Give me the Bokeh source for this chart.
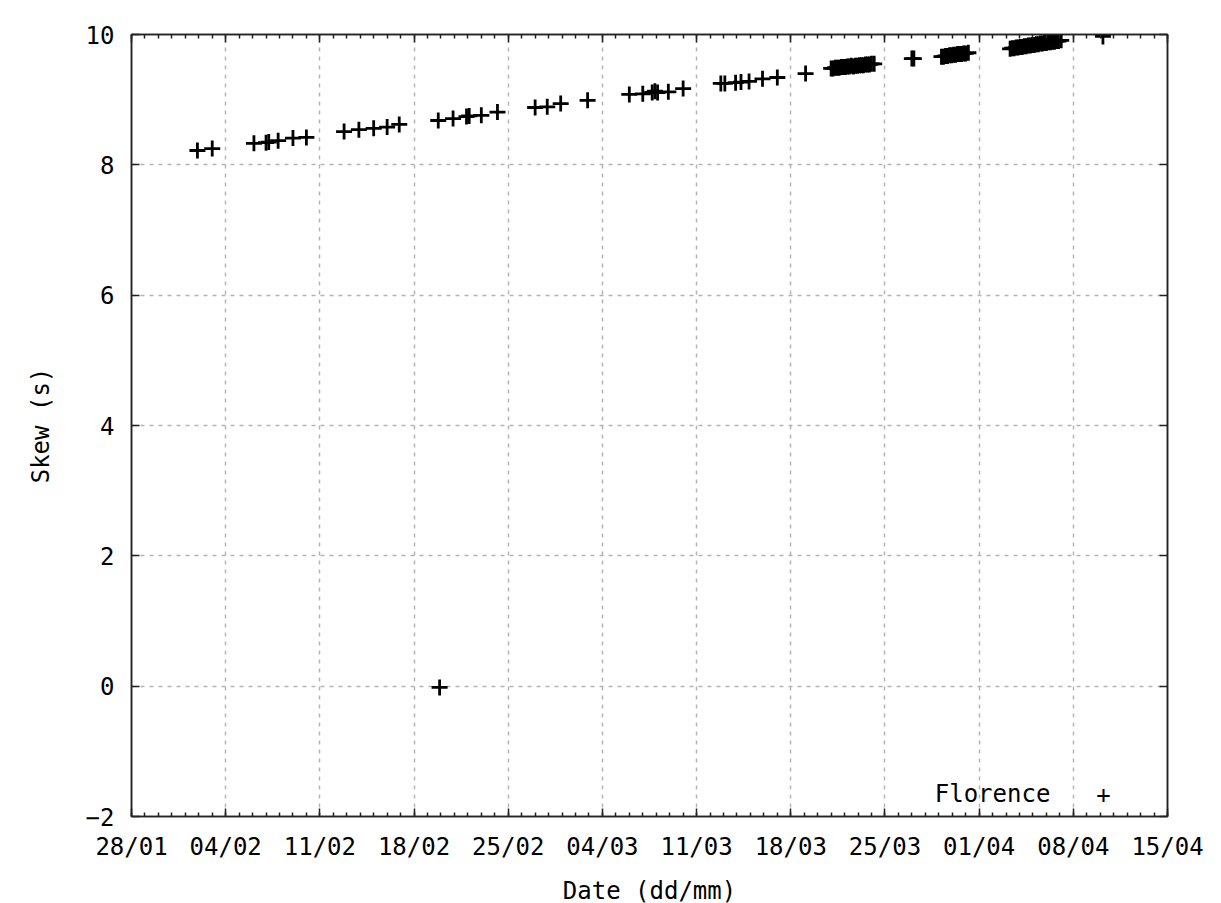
from bokeh.plotting import figure
from bokeh.models import Range1d, FixedTicker, LinearAxis, Label
from bokeh.embed import file_html
from bokeh.resources import INLINE

# x: days since 28/01 (non-leap year), y: skew in seconds
days = [
    4.9, 6.0,
    9.1, 10.0, 10.2, 10.9, 12.0, 13.0,
    15.8, 16.9, 18.0, 19.0, 19.9,
    22.8, 22.9, 23.9, 24.9, 25.1, 26.0, 27.2,
    30.0, 30.9, 31.9, 33.9,
    37.0, 38.0, 38.7, 38.9, 39.1, 39.9, 41.0,
    43.8, 44.1, 44.9, 45.3, 45.9, 46.9, 48.0,
    50.1,
    52.0, 52.15, 52.3, 52.45, 52.6, 52.75, 52.9, 53.05, 53.2, 53.35, 53.5,
    53.65, 53.8, 53.95, 54.1, 54.25, 54.4, 54.55, 54.7, 54.85, 55.0, 55.2,
    58.0, 58.15,
    60.2, 60.35, 60.5, 60.65, 60.8, 60.95, 61.1, 61.25, 61.4, 61.55, 61.7,
    61.85, 62.0, 62.2,
    65.3, 65.45, 65.6, 65.75, 65.9, 66.05, 66.2, 66.35, 66.5, 66.65, 66.8,
    66.95, 67.1, 67.25, 67.4, 67.55, 67.7, 67.85, 68.0, 68.15, 68.3, 68.45,
    68.6, 68.75, 68.9, 69.1,
    72.2,
]
skew = [
    8.22, 8.25,
    8.33, 8.34, 8.35, 8.37, 8.41, 8.42,
    8.51, 8.54, 8.56, 8.58, 8.62,
    8.68, -0.02, 8.71, 8.74, 8.75, 8.76, 8.81,
    8.88, 8.89, 8.94, 8.99,
    9.08, 9.09, 9.11, 9.13, 9.11, 9.12, 9.17,
    9.25, 9.25, 9.26, 9.27, 9.28, 9.32, 9.34,
    9.40,
    9.48, 9.48, 9.49, 9.49, 9.49, 9.50, 9.50, 9.50, 9.51, 9.51, 9.52,
    9.51, 9.52, 9.52, 9.53, 9.53, 9.53, 9.54, 9.54, 9.54, 9.55, 9.55,
    9.63, 9.63,
    9.66, 9.66, 9.67, 9.67, 9.68, 9.68, 9.69, 9.69, 9.70, 9.70, 9.70,
    9.71, 9.71, 9.72,
    9.78, 9.79, 9.79, 9.80, 9.80, 9.81, 9.81, 9.82, 9.82, 9.83, 9.83,
    9.84, 9.84, 9.85, 9.85, 9.86, 9.86, 9.87, 9.87, 9.88, 9.88, 9.89,
    9.89, 9.90, 9.90, 9.91,
    9.97,
]

x_tick_days = [0, 7, 14, 21, 28, 35, 42, 49, 56, 63, 70, 77]
x_tick_labels = ["28/01", "04/02", "11/02", "18/02", "25/02", "04/03",
                 "11/03", "18/03", "25/03", "01/04", "08/04", "15/04"]
x_minor_days = list(range(0, 78))
y_ticks = [-2, 0, 2, 4, 6, 8, 10]

series_name = "Florence"

FONT = "DejaVu Sans Mono"
FS = "24px"
AXIS_COLOR = "#222222"

p = figure(
    width=1213, height=896,
    frame_width=1036, frame_height=782,
    min_border_left=131, min_border_right=46,
    min_border_top=34, min_border_bottom=80,
    x_range=Range1d(0, 77), y_range=Range1d(-2, 10),
    output_backend="svg", toolbar_location=None,
    x_axis_label="Date (dd/mm)", y_axis_label="Skew (s)",
)
p.background_fill_color = "white"
p.border_fill_color = "white"
p.outline_line_color = AXIS_COLOR
p.outline_line_width = 1.5

xticker = FixedTicker(ticks=x_tick_days, minor_ticks=x_minor_days)
yticker = FixedTicker(ticks=y_ticks, minor_ticks=[])

p.xaxis.ticker = xticker
p.yaxis.ticker = yticker
p.xaxis.major_label_overrides = {d: l for d, l in zip(x_tick_days, x_tick_labels)}

for ax in p.xaxis + p.yaxis:
    ax.axis_line_color = AXIS_COLOR
    ax.axis_line_width = 1.5
    ax.major_tick_line_color = AXIS_COLOR
    ax.minor_tick_line_color = AXIS_COLOR
    ax.major_tick_line_width = 1.5
    ax.minor_tick_line_width = 1.5
    ax.major_tick_in = 8
    ax.major_tick_out = 0
    ax.minor_tick_in = 4
    ax.minor_tick_out = 0
    ax.major_label_text_font = FONT
    ax.major_label_text_font_size = FS
    ax.major_label_text_color = "black"
    ax.axis_label_text_font = FONT
    ax.axis_label_text_font_size = FS
    ax.axis_label_text_font_style = "normal"
    ax.axis_label_text_color = "black"

p.xaxis.major_label_standoff = 16
p.xaxis.axis_label_standoff = 13
p.yaxis.major_label_standoff = 17
p.yaxis.axis_label_standoff = 28

# mirrored axes on top and right (ticks only)
top = LinearAxis(ticker=xticker)
right = LinearAxis(ticker=yticker)
for ax in (top, right):
    ax.axis_line_color = AXIS_COLOR
    ax.axis_line_width = 1.5
    ax.major_tick_line_color = AXIS_COLOR
    ax.minor_tick_line_color = AXIS_COLOR
    ax.major_tick_line_width = 1.5
    ax.minor_tick_line_width = 1.5
    ax.major_tick_in = 8
    ax.major_tick_out = 0
    ax.minor_tick_in = 4
    ax.minor_tick_out = 0
    ax.major_label_text_font_size = "0px"
    ax.major_label_text_color = None
    ax.major_label_standoff = 0
p.add_layout(top, "above")
p.add_layout(right, "right")

for g in (p.xgrid, p.ygrid):
    g.grid_line_color = "#b4b4b4"
    g.grid_line_width = 1.5
    g.grid_line_dash = "4 5"
p.xgrid.ticker = xticker
p.ygrid.ticker = yticker

p.scatter(days, skew, marker="cross", size=16, line_color="black", line_width=2.8)

# gnuplot-style key: label then sample symbol, bottom-right inside the frame
p.add_layout(Label(x=59.7, y=-1.65, text=series_name, text_font=FONT,
                   text_font_size=FS, text_color="black",
                   text_baseline="middle", text_align="left"))
p.add_layout(Label(x=72.25, y=-1.65, text="+", text_font=FONT,
                   text_font_size=FS, text_color="black",
                   text_baseline="middle", text_align="center"))

open("out.html", "w").write(file_html(p, INLINE))
